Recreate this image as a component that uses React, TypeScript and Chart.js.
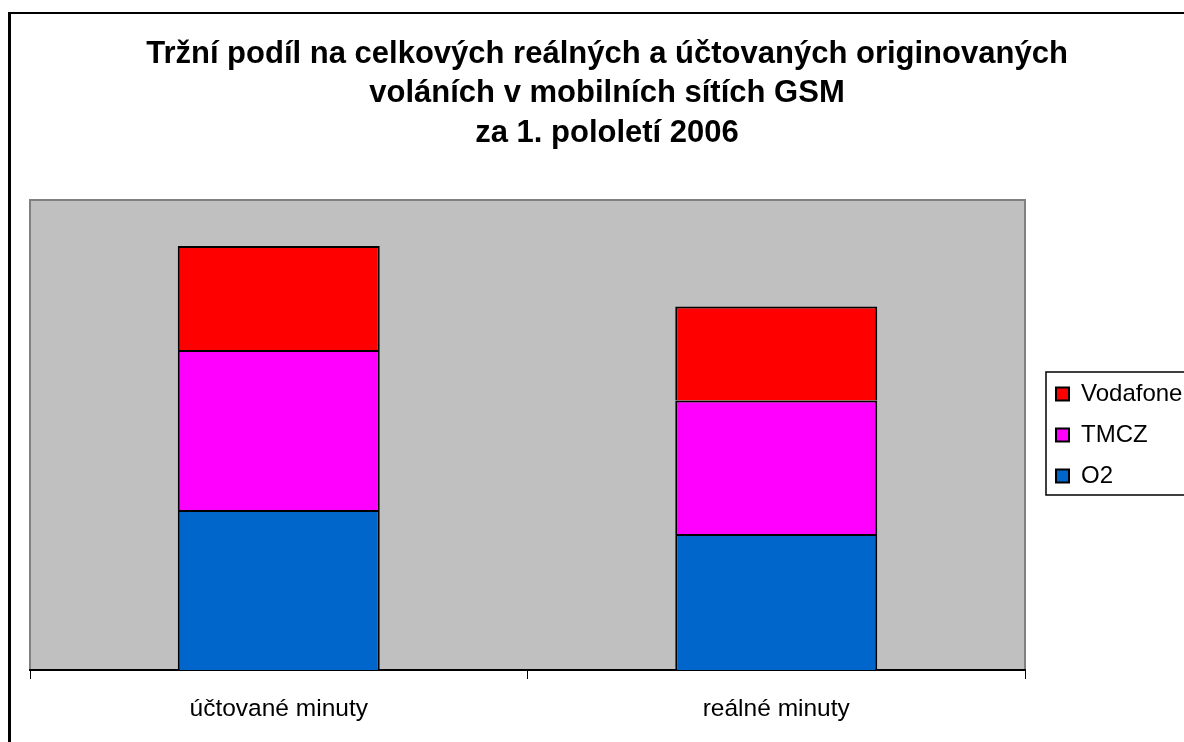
import React, { useEffect, useRef } from "react";
import { Chart, registerables } from "chart.js";

Chart.register(...registerables);

const categories = ["účtované minuty", "reálné minuty"];
const o2Values = [1600, 1360];
const tmczValues = [1600, 1335];
const vodafoneValues = [1040, 940];
const titleLines = [
  "Tržní podíl na celkových reálných a účtovaných originovaných",
  "voláních v mobilních sítích GSM",
  "za 1. pololetí 2006",
];

const FAMILY = '"Liberation Sans", Arial, sans-serif';

const plotAreaPlugin = {
  id: "plotArea",
  beforeDraw(chart: any) {
    const { ctx, chartArea: a } = chart;
    ctx.save();
    ctx.fillStyle = "#C0C0C0";
    ctx.fillRect(a.left, a.top, a.right - a.left, a.bottom - a.top);
    ctx.strokeStyle = "#808080";
    ctx.lineWidth = 2;
    ctx.beginPath();
    ctx.moveTo(a.left, a.bottom);
    ctx.lineTo(a.left, a.top);
    ctx.lineTo(a.right, a.top);
    ctx.lineTo(a.right, a.bottom);
    ctx.stroke();
    ctx.restore();
  },
  afterDraw(chart: any) {
    const { ctx, chartArea: a, legend } = chart;
    if (!legend) return;
    const mid = (a.top + a.bottom) / 2;
    const left = legend.left + 7;
    ctx.save();
    ctx.strokeStyle = "#000";
    ctx.lineWidth = 1.5;
    ctx.strokeRect(left, mid - 63, 300, 123);
    ctx.restore();
  },
};

export default function App() {
  const ref = useRef<HTMLCanvasElement | null>(null);

  useEffect(() => {
    const canvas = ref.current!;
    const chart = new Chart(canvas, {
      type: "bar",
      data: {
        labels: categories,
        datasets: [
          { label: "O2", data: o2Values, backgroundColor: "#0066CC" },
          { label: "TMCZ", data: tmczValues, backgroundColor: "#FF00FF" },
          { label: "Vodafone", data: vodafoneValues, backgroundColor: "#FF0000" },
        ].map((d) => ({
          ...d,
          borderColor: "#000000",
          borderWidth: 2,
          barPercentage: 0.406,
          categoryPercentage: 1,
        })),
      },
      options: {
        animation: false,
        responsive: false,
        devicePixelRatio: 1,
        layout: { padding: { left: 30, right: 0, top: 0, bottom: 1.6 } },
        plugins: {
          title: {
            display: true,
            text: titleLines,
            color: "#000",
            font: { family: FAMILY, size: 31, weight: "bold", lineHeight: "39.5px" },
            padding: { top: 34.5, bottom: 47 },
          },
          legend: {
            display: true,
            position: "right",
            align: "center",
            fullSize: false,
            reverse: true,
            maxWidth: 145,
            labels: {
              color: "#000",
              font: { family: FAMILY, size: 24 },
              boxWidth: 13,
              boxHeight: 13,
              padding: 17,
            },
          },
          tooltip: { enabled: false },
        },
        scales: {
          x: {
            type: "category",
            position: "bottom",
            stacked: true,
            offset: true,
            grid: {
              offset: true,
              drawOnChartArea: false,
              drawTicks: true,
              tickLength: 9,
              color: "#000",
              lineWidth: 1,
            },
            border: { display: true, color: "#000", width: 2 },
            ticks: {
              color: "#000",
              font: { family: FAMILY, size: 24.5 },
              padding: 16,
              maxRotation: 0,
            },
          },
          y: {
            position: "right",
            stacked: true,
            min: 0,
            max: 4700,
            grid: { display: false },
            border: { display: false },
            ticks: { display: false },
            afterFit: (s: any) => {
              s.width = 14;
            },
          },
        },
      },
      plugins: [plotAreaPlugin],
    });
    return () => chart.destroy();
  }, []);

  return (
    <div
      style={{
        position: "fixed",
        left: 0,
        top: 0,
        width: 1184,
        height: 742,
        overflow: "hidden",
        background: "#fff",
      }}
    >
      <div
        style={{
          position: "absolute",
          left: 8,
          top: 12,
          width: 1400,
          height: 1000,
          borderTop: "2px solid #000",
          borderLeft: "3px solid #000",
          boxSizing: "border-box",
        }}
      />
      <canvas
        ref={ref}
        width={1184}
        height={742}
        style={{ position: "absolute", left: 0, top: 0, width: 1184, height: 742 }}
      />
    </div>
  );
}
